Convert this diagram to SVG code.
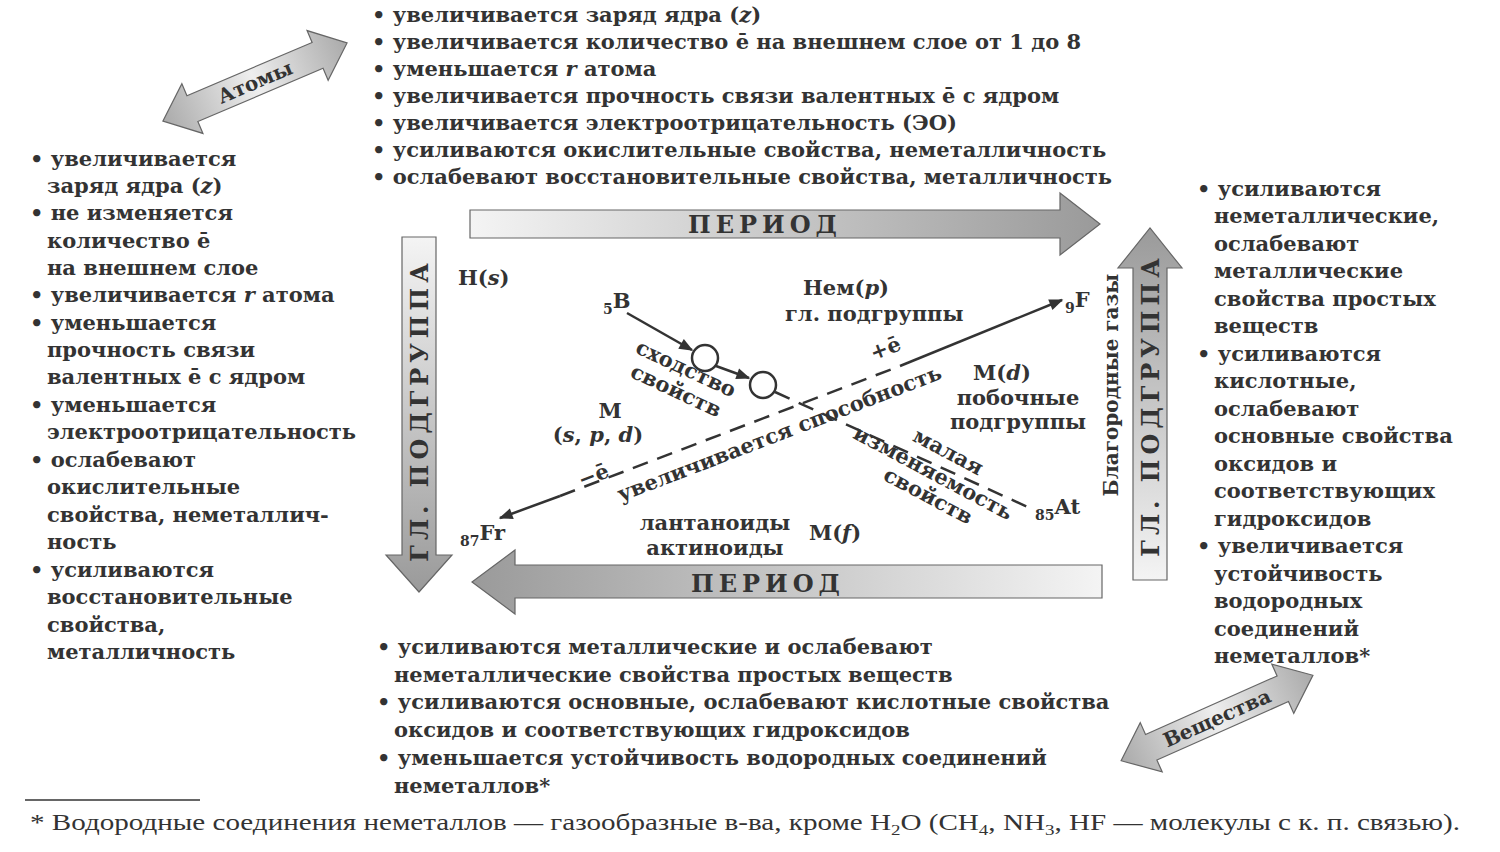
<svg xmlns="http://www.w3.org/2000/svg" width="1500" height="852" viewBox="0 0 1500 852">
<defs>
<linearGradient id="gh" x1="0" y1="0" x2="1" y2="0"><stop offset="0" stop-color="#f4f4f4"/><stop offset="1" stop-color="#9a9a9a"/></linearGradient>
<linearGradient id="ghr" x1="1" y1="0" x2="0" y2="0"><stop offset="0" stop-color="#f4f4f4"/><stop offset="1" stop-color="#9a9a9a"/></linearGradient>
<linearGradient id="gv" x1="0" y1="0" x2="0" y2="1"><stop offset="0" stop-color="#f4f4f4"/><stop offset="1" stop-color="#9a9a9a"/></linearGradient>
<linearGradient id="gvu" x1="0" y1="1" x2="0" y2="0"><stop offset="0" stop-color="#f4f4f4"/><stop offset="1" stop-color="#9a9a9a"/></linearGradient>
<linearGradient id="gd" x1="0" y1="0" x2="1" y2="0"><stop offset="0" stop-color="#aaa"/><stop offset="0.5" stop-color="#eee"/><stop offset="1" stop-color="#aaa"/></linearGradient>
<marker id="ah" viewBox="0 0 10 10" refX="9" refY="5" markerWidth="8" markerHeight="8" orient="auto-start-reverse" markerUnits="userSpaceOnUse"><path d="M0,1 L10,5 L0,9 z" fill="#333"/></marker>
<marker id="ah2" viewBox="0 0 10 10" refX="9" refY="5" markerWidth="22" markerHeight="14" orient="auto-start-reverse" markerUnits="userSpaceOnUse"><path d="M0,1 L10,5 L0,9 z" fill="#333"/></marker>
</defs>
<style>
text{font-family:"DejaVu Serif","Liberation Serif",serif;fill:#333}
.b{font-size:20px;font-weight:bold}
.c{font-size:21px;font-weight:bold}
.big{font-size:24px;font-weight:bold;letter-spacing:5px}
.fn{font-family:"Liberation Serif",serif;font-size:23px}
.blk{stroke:#666;stroke-width:1.2}
.ln{stroke:#333;stroke-width:2.5;fill:none}
.dash{stroke:#333;stroke-width:2.5;fill:none;stroke-dasharray:16 10}
</style>
<rect width="1500" height="852" fill="#fff"/>

<g id="arrows">
<g id="atoms-arrow" transform="translate(255,82) rotate(-23)">
<polygon class="blk" fill="url(#gd)" points="-100,0 -68,-27 -68,-14 68,-14 68,-27 100,0 68,27 68,14 -68,14 -68,27"/>
<text class="b" x="0" y="7" text-anchor="middle">Атомы</text>
</g>
<g id="substances-arrow" transform="translate(1217,718) rotate(-24)">
<polygon class="blk" fill="url(#gd)" points="-105,0 -72,-27 -72,-14 72,-14 72,-27 105,0 72,27 72,14 -72,14 -72,27"/>
<text class="b" x="0" y="7" text-anchor="middle">Вещества</text>
</g>
<g id="period-top">
<polygon class="blk" fill="url(#gh)" points="470,210 1060,210 1060,193 1100,224 1060,255 1060,238 470,238"/>
<text class="big" x="765" y="233" text-anchor="middle">ПЕРИОД</text>
</g>
<g id="period-bottom">
<polygon class="blk" fill="url(#ghr)" points="1102,565 515,565 515,550 472,582 515,614 515,598 1102,598"/>
<text class="big" x="768" y="592" text-anchor="middle">ПЕРИОД</text>
</g>
<g id="group-left">
<polygon class="blk" fill="url(#gv)" points="402,237 436,237 436,555 452,555 419,592 386,555 402,555"/>
<text class="big" transform="translate(428,410) rotate(-90)" text-anchor="middle">ГЛ. ПОДГРУППА</text>
</g>
<g id="group-right">
<polygon class="blk" fill="url(#gvu)" points="1133,580 1167,580 1167,268 1182,268 1150,228 1118,268 1133,268"/>
<text class="big" transform="translate(1159,405) rotate(-90)" text-anchor="middle">ГЛ. ПОДГРУППА</text>
</g>
</g>

<g id="connectors">
<line class="ln" x1="560" y1="496" x2="500" y2="518" marker-end="url(#ah2)"/>
<line class="dash" x1="560" y1="496" x2="900" y2="366"/>
<line class="ln" x1="900" y1="366" x2="1062" y2="300" marker-end="url(#ah2)"/>
<line class="ln" x1="627" y1="313" x2="692" y2="350" marker-end="url(#ah2)"/>
<line class="ln" x1="716" y1="366" x2="749" y2="378" marker-end="url(#ah2)"/>
<line class="dash" x1="775" y1="392" x2="1030" y2="508"/>
</g>

<g id="circles">
<circle cx="705" cy="358" r="13" fill="#fff" stroke="#333" stroke-width="2.5"/>
<circle cx="763" cy="385" r="13" fill="#fff" stroke="#333" stroke-width="2.5"/>
</g>

<g id="center-labels">
<text class="c" x="458" y="285">H(<tspan font-style="italic">s</tspan>)</text>
<text class="c" x="803" y="295">Нем(<tspan font-style="italic">p</tspan>)</text>
<text class="c" x="785" y="321">гл. подгруппы</text>
<text class="c" x="603" y="308"><tspan font-size="14" dy="6">5</tspan><tspan dy="-6">B</tspan></text>
<text class="c" x="1065" y="307"><tspan font-size="14" dy="6">9</tspan><tspan dy="-6">F</tspan></text>
<text class="c" x="460" y="540"><tspan font-size="14" dy="6">87</tspan><tspan dy="-6">Fr</tspan></text>
<text class="c" x="1035" y="514"><tspan font-size="14" dy="6">85</tspan><tspan dy="-6">At</tspan></text>
<text class="c" transform="translate(683,375) rotate(25)" text-anchor="middle">сходство</text>
<text class="c" transform="translate(673,397) rotate(25)" text-anchor="middle">свойств</text>
<text class="c" x="610" y="418" text-anchor="middle">M</text>
<text class="c" x="598" y="442" text-anchor="middle">(<tspan font-style="italic">s</tspan>, <tspan font-style="italic">p</tspan>, <tspan font-style="italic">d</tspan>)</text>
<text class="c" x="1002" y="380" text-anchor="middle">M(<tspan font-style="italic">d</tspan>)</text>
<text class="c" x="1018" y="405" text-anchor="middle">побочные</text>
<text class="c" x="1018" y="429" text-anchor="middle">подгруппы</text>
<text class="c" transform="translate(945,458) rotate(28)" text-anchor="middle">малая</text>
<text class="c" transform="translate(930,479) rotate(28)" text-anchor="middle">изменяемость</text>
<text class="c" transform="translate(925,502) rotate(28)" text-anchor="middle">свойств</text>
<text class="c" transform="translate(782,440) rotate(-21)" text-anchor="middle">увеличивается способность</text>
<text class="c" transform="translate(888,355) rotate(-21)" text-anchor="middle">+ē</text>
<text class="c" transform="translate(596,482) rotate(-21)" text-anchor="middle">−ē</text>
<text class="c" x="715" y="530" text-anchor="middle">лантаноиды</text>
<text class="c" x="715" y="555" text-anchor="middle">актиноиды</text>
<text class="c" x="835" y="540" text-anchor="middle">M(<tspan font-style="italic">f</tspan>)</text>
<text class="b" transform="translate(1118,385) rotate(-90)" text-anchor="middle">Благородные газы</text>
</g>

<g id="top-text" class="c">
<text x="372" y="22">• увеличивается заряд ядра (<tspan font-style="italic">z</tspan>)</text>
<text x="372" y="49">• увеличивается количество ē на внешнем слое от 1 до 8</text>
<text x="372" y="76">• уменьшается <tspan font-style="italic">r</tspan> атома</text>
<text x="372" y="103">• увеличивается прочность связи валентных ē с ядром</text>
<text x="372" y="130">• увеличивается электроотрицательность (ЭО)</text>
<text x="372" y="157">• усиливаются окислительные свойства, неметалличность</text>
<text x="372" y="184">• ослабевают восстановительные свойства, металличность</text>
</g>

<g id="left-text" class="c">
<text x="30" y="166">• увеличивается</text>
<text x="47" y="193">заряд ядра (<tspan font-style="italic">z</tspan>)</text>
<text x="30" y="220">• не изменяется</text>
<text x="47" y="248">количество ē</text>
<text x="47" y="275">на внешнем слое</text>
<text x="30" y="302">• увеличивается <tspan font-style="italic">r</tspan> атома</text>
<text x="30" y="330">• уменьшается</text>
<text x="47" y="357">прочность связи</text>
<text x="47" y="384">валентных ē с ядром</text>
<text x="30" y="412">• уменьшается</text>
<text x="47" y="439">электроотрицательность</text>
<text x="30" y="467">• ослабевают</text>
<text x="47" y="494">окислительные</text>
<text x="47" y="522">свойства, неметаллич-</text>
<text x="47" y="549">ность</text>
<text x="30" y="577">• усиливаются</text>
<text x="47" y="604">восстановительные</text>
<text x="47" y="632">свойства,</text>
<text x="47" y="659">металличность</text>
</g>

<g id="right-text" class="c">
<text x="1197" y="196">• усиливаются</text>
<text x="1214" y="223">неметаллические,</text>
<text x="1214" y="251">ослабевают</text>
<text x="1214" y="278">металлические</text>
<text x="1214" y="306">свойства простых</text>
<text x="1214" y="333">веществ</text>
<text x="1197" y="361">• усиливаются</text>
<text x="1214" y="388">кислотные,</text>
<text x="1214" y="416">ослабевают</text>
<text x="1214" y="443">основные свойства</text>
<text x="1214" y="471">оксидов и</text>
<text x="1214" y="498">соответствующих</text>
<text x="1214" y="526">гидроксидов</text>
<text x="1197" y="553">• увеличивается</text>
<text x="1214" y="581">устойчивость</text>
<text x="1214" y="608">водородных</text>
<text x="1214" y="636">соединений</text>
<text x="1214" y="663">неметаллов*</text>
</g>

<g id="bottom-text" class="c">
<text x="377" y="654">• усиливаются металлические и ослабевают</text>
<text x="394" y="682">неметаллические свойства простых веществ</text>
<text x="377" y="709">• усиливаются основные, ослабевают кислотные свойства</text>
<text x="394" y="737">оксидов и соответствующих гидроксидов</text>
<text x="377" y="765">• уменьшается устойчивость водородных соединений</text>
<text x="394" y="793">неметаллов*</text>
</g>

<g id="footnote">
<line x1="25" y1="800" x2="200" y2="800" stroke="#333" stroke-width="1.5"/>
<text class="fn" x="30" y="830" textLength="1430" lengthAdjust="spacingAndGlyphs">* Водородные соединения неметаллов — газообразные в-ва, кроме H<tspan font-size="15" dy="5">2</tspan><tspan dy="-5">O (CH</tspan><tspan font-size="15" dy="5">4</tspan><tspan dy="-5">, NH</tspan><tspan font-size="15" dy="5">3</tspan><tspan dy="-5">, HF — молекулы с к. п. связью).</tspan></text>
</g>
</svg>
